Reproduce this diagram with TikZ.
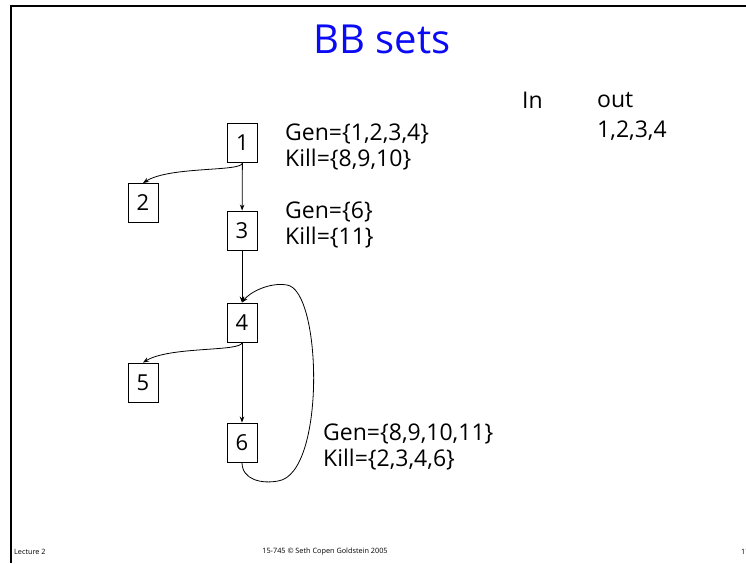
\documentclass[tikz,border=0pt]{standalone}
\usepackage{fontspec}
\setmainfont{Open Sans}
\usetikzlibrary{arrows.meta}
\definecolor{titleblue}{RGB}{10,10,245}
\begin{document}
\begin{tikzpicture}[x=1pt,y=-1pt,
  bb/.style={draw, line width=0.9pt, minimum width=30pt, minimum height=39pt, inner sep=0pt, font=\fontsize{22}{26}\selectfont},
  lbl/.style={anchor=west, align=left, inner sep=0pt, font=\fontsize{23}{26}\selectfont},
  arr/.style={-{Stealth[length=6pt,width=4.5pt]}, line width=0.8pt},
  foot/.style={inner sep=0pt, font=\fontsize{7.3}{8}\selectfont}]
\useasboundingbox (0,0) rectangle (746,563);
\fill[white] (0,0) rectangle (746,563);
\draw[line width=2pt] (10.5,563) -- (10.5,6) -- (746,6);
% title
\node[inner sep=0pt, text=titleblue, font=\fontsize{40}{44}\selectfont] (title) at (382,39) {BB sets};
% blocks
\node[bb] (b1) at (242.5,143) {1};
\node[bb] (b2) at (143,203) {2};
\node[bb] (b3) at (242,230.5) {3};
\node[bb] (b4) at (242,322.5) {4};
\node[bb] (b5) at (143,382.5) {5};
\node[bb] (b6) at (242,442.5) {6};
% edges
\draw[arr] (b1.south) .. controls (242,172) and (170,166) .. (b2.north);
\draw[arr] (b1) -- (b3);
\draw[arr] (b3) -- (b4);
\draw[arr] (b4.south) .. controls (242,352) and (170,346) .. (b5.north);
\draw[arr] (b4) -- (b6);
\draw[arr] (b6.south) .. controls (242,480) and (262,484) .. (278,481)
  .. controls (326,474) and (322,290) .. (287,285)
  .. controls (270,282) and (250,292) .. (b4.north);
% labels
\node[lbl] (g1) at (285,147) {Gen=\{1,2,3,4\}\\Kill=\{8,9,10\}};
\node[lbl] (g3) at (285,225) {Gen=\{6\}\\Kill=\{11\}};
\node[lbl] (g6) at (323,447) {Gen=\{8,9,10,11\}\\Kill=\{2,3,4,6\}};
\node[lbl] (in) at (522,100) {In};
\node[lbl] (out) at (597,100) {out};
\node[lbl] (o1) at (597,131) {1,2,3,4};
% footer
\node[foot, anchor=west] (f1) at (14,552) {Lecture 2};
\node[foot] (f2) at (325,552) {15-745 \textcopyright{} Seth Copen Goldstein 2005};
\node[foot, anchor=west] (f3) at (741,552) {17};
\end{tikzpicture}
\end{document}
